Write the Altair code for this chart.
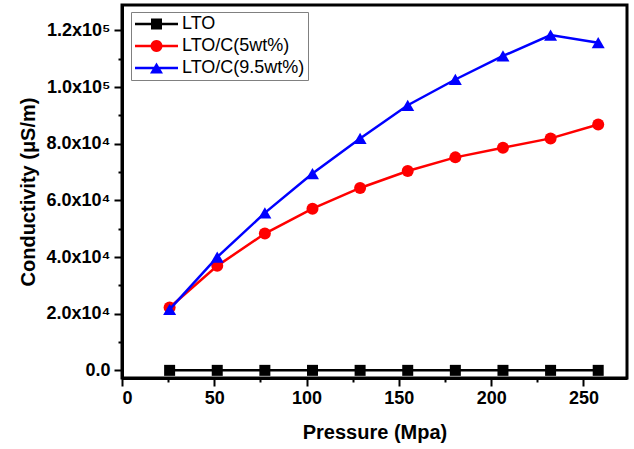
import math
import altair as alt
import pandas as pd

# ---------------- data ----------------
pressure = [25.8, 51.6, 77.4, 103.2, 129.0, 154.8, 180.6, 206.4, 232.2, 258.0]
lto = [0, 0, 0, 0, 0, 0, 0, 0, 0, 0]
lto_c5 = [22200, 36900, 48300, 57100, 64400, 70400, 75200, 78600, 81900, 86800]
lto_c95 = [21500, 40000, 55600, 69500, 81900, 93600, 102700, 111000, 118400, 115700]

series_names = ["LTO", "LTO/C(5wt%)", "LTO/C(9.5wt%)"]
series_values = [lto, lto_c5, lto_c95]
series_colors = ["#000000", "#FF0000", "#0000FF"]
series_shapes = ["square", "circle", "triangle-up"]
series_sizes = [121, 144, 169]

x_ticks = [0, 25, 50, 75, 100, 125, 150, 175, 200, 225, 250]
y_ticks = [0, 10000, 20000, 30000, 40000, 50000, 60000, 70000, 80000, 90000, 100000, 110000, 120000]
y_major = [0, 20000, 40000, 60000, 80000, 100000, 120000]
y_labels = ["0.0", "2.0x10⁴", "4.0x10⁴", "6.0x10⁴", "8.0x10⁴", "1.0x10⁵", "1.2x10⁵"]

rows = []
for name, vals in zip(series_names, series_values):
    for p, v in zip(pressure, vals):
        rows.append({"Pressure": p, "Conductivity": v, "series": name})
df = pd.DataFrame(rows)

FONT = "Liberation Sans"

# ---------------- legend symbol paths (line + marker) ----------------
U = 8.0  # px per path unit (symbol size 256 -> sqrt/2 = 8)
L0, L1 = -1.0, -1.0 + 43 / U
CX = -1.0 + 21.5 / U
TH = 1.25 / U
line_path = f"M{L0:.3f},{-TH:.3f}H{L1:.3f}V{TH:.3f}H{L0:.3f}Z"
sq = 5.5 / U
square_path = f"M{CX-sq:.3f},{-sq:.3f}H{CX+sq:.3f}V{sq:.3f}H{CX-sq:.3f}Z"
cr = 6.0 / U
circ_pts = []
for i in range(24):
    a = 2 * math.pi * i / 24
    circ_pts.append(f"{CX + cr*math.cos(a):.3f},{cr*math.sin(a):.3f}")
circle_path = "M" + "L".join(circ_pts) + "Z"
tw = 6.5 / U
th = 5.6 / U
tri_path = f"M{CX:.3f},{-th:.3f}L{CX+tw:.3f},{th:.3f}L{CX-tw:.3f},{th:.3f}Z"
legend_paths = [line_path + square_path, line_path + circle_path, line_path + tri_path]

x_scale = alt.Scale(domain=[0, 273.6], nice=False, zero=False)
y_scale = alt.Scale(domain=[-2700, 129000], nice=False, zero=False)

x_axis = alt.Axis(
    values=x_ticks,
    labelExpr="datum.value % 50 === 0 ? datum.label : ''",
    tickSize={"condition": {"test": "datum.value % 50 === 0", "value": 8}, "value": 4},
    tickWidth=2, tickColor="black",
    domainWidth=3, domainColor="black",
    labelFont=FONT, labelFontWeight="bold", labelFontSize=18, labelColor="black",
    labelPadding=3,
    title="Pressure (Mpa)", titleFont=FONT, titleFontWeight="bold", titleFontSize=20,
    titleColor="black", titlePadding=15,
    grid=False,
)

y_label_expr = (
    "indexof(" + str(y_major) + ", datum.value) >= 0 ? "
    + "[" + ",".join("'" + s + "'" for s in y_labels) + "][indexof(" + str(y_major) + ", datum.value)] : ''"
)
y_axis = alt.Axis(
    values=y_ticks,
    labelExpr=y_label_expr,
    tickSize={"condition": {"test": "datum.value % 20000 === 0", "value": 8}, "value": 4},
    tickWidth=2, tickColor="black",
    domainWidth=3, domainColor="black",
    labelFont=FONT, labelFontWeight="bold", labelFontSize=18, labelColor="black",
    labelPadding=4,
    title="Conductivity (μS/m)", titleFont=FONT, titleFontWeight="bold", titleFontSize=20,
    titleColor="black", titlePadding=8,
    grid=False,
)

base = alt.Chart(df)
layers = []
for i, (name, color, shape, size) in enumerate(zip(series_names, series_colors, series_shapes, series_sizes)):
    sub = base.transform_filter(alt.datum.series == name)
    enc = dict(
        x=alt.X("Pressure:Q", scale=x_scale, axis=x_axis),
        y=alt.Y("Conductivity:Q", scale=y_scale, axis=y_axis),
    )
    line = sub.mark_line(color=color, strokeWidth=2.5).encode(**enc)
    pts = sub.mark_point(filled=True, color=color, shape=shape, size=size, opacity=1).encode(**enc)
    layers += [line, pts]

legend_props = dict(
    title=None, orient="none", legendX=9, legendY=7,
    strokeColor="#808080", fillColor="white", padding=3,
    symbolSize=256, symbolStrokeWidth=0, symbolOpacity=1,
    labelFont=FONT, labelFontSize=18, labelColor="black",
    labelOffset=30, rowPadding=4,
)
legend_layer = alt.Chart(pd.DataFrame({"series": series_names})).transform_filter("false").mark_point(
    filled=True, opacity=1
).encode(
    color=alt.Color("series:N", scale=alt.Scale(domain=series_names, range=series_colors),
                    legend=alt.Legend(**legend_props)),
    shape=alt.Shape("series:N", scale=alt.Scale(domain=series_names, range=legend_paths),
                    legend=alt.Legend(**legend_props)),
)

chart = alt.layer(*layers, legend_layer).properties(
    width=505, height=373,
    background="white",
    autosize=alt.AutoSizeParams(type="none"),
    padding={"left": 122, "top": 5, "right": 7, "bottom": 71},
).configure_view(
    stroke="black", strokeWidth=3
)

chart.save("out.html", embed_options={"renderer": "svg", "actions": False})
